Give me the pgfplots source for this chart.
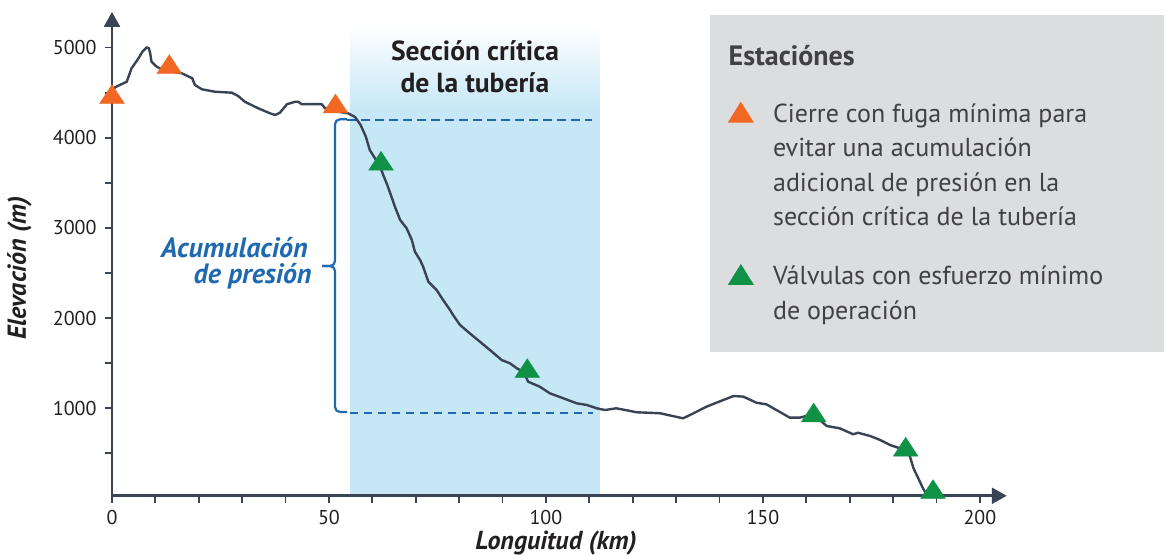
\documentclass[border=0pt]{standalone}
\usepackage{fontspec}
\setmainfont{PT Sans}
\usepackage{pgfplots}
\usepackage{pgfplotstable}
\pgfplotsset{compat=1.18}
\usetikzlibrary{arrows.meta}
\definecolor{axiscol}{HTML}{3B4455}
\definecolor{linecol}{HTML}{3A4354}
\definecolor{orangem}{HTML}{F26722}
\definecolor{greenm}{HTML}{0F9146}
\definecolor{bluefill}{HTML}{C6E7F6}
\definecolor{bluedark}{HTML}{1E69AF}
\definecolor{legbg}{HTML}{DCDDDF}
\definecolor{labcol}{HTML}{231F20}
\definecolor{legtext}{HTML}{414042}

\pgfplotstableread{
x y
0 4500
0.7 4559
3.4 4621
4.5 4769
6.1 4880
7.0 4953
8.0 5002
8.5 4991
8.8 4936
9.1 4843
10.3 4787
11.8 4751
16.1 4714
18.5 4659
19.1 4585
20.7 4537
23.7 4510
27.6 4499
29.1 4462
30.6 4399
33.7 4326
36.4 4271
37.6 4252
38.7 4277
40.3 4371
42.2 4399
42.9 4399
43.7 4371
46.0 4373
48.3 4373
49.1 4326
52.1 4288
54.4 4271
56.0 4230
57.3 4141
58.5 4011
59.4 3864
60.6 3772
61.8 3679
62.5 3587
63.3 3494
64.4 3346
65.2 3235
66.4 3088
67.9 2996
69.1 2866
69.8 2736
71.0 2644
71.7 2570
72.9 2404
74.8 2312
76.3 2201
77.9 2090
78.6 2034
80.2 1924
82.9 1813
84.8 1738
87.1 1646
89.8 1535
91.7 1499
93.3 1443
94.8 1406
95.9 1295
98.6 1239
100.9 1166
104.0 1111
107.1 1055
109.4 1037
111.7 1000
113.6 981
116.2 1000
117.1 992
120.9 956
126.3 945
131.6 889
133.2 926
134.7 962
137.0 1018
139.3 1062
143.2 1136
145.5 1129
148.5 1062
150.8 1044
153.1 981
156.2 896
158.5 896
160.8 926
163.1 870
164.7 804
167.7 778
170.8 712
171.9 729
174.7 693
177.0 649
179.3 593
181.6 556
183.1 538
183.9 463
184.7 335
185.8 224
187.0 102
187.7 50
}\terrain

\pgfplotstableread{
x y
0 4449
13.2 4782
51.5 4345
}\orangest

\pgfplotstableread{
x y
62.0 3710
95.7 1411
161.7 919
182.9 539
189.2 70
}\greenst

\begin{document}
\begin{tikzpicture}
\begin{axis}[
  width=447.4pt, height=241.9pt, scale only axis,
  xmin=0, xmax=206.2, ymin=30, ymax=5394,
  axis lines=left,
  axis line style={draw=axiscol, line width=1.3pt, -{Triangle[length=7.5pt,width=8pt]}},
  xtick={0,50,100,150,200},
  minor xtick={10,20,30,40,60,70,80,90,110,120,130,140,160,170,180,190},
  ytick={1000,2000,3000,4000,5000},
  minor ytick={500,1500,2500,3500,4500},
  tick align=outside,
  major tick length=3.7pt, minor tick length=3.7pt,
  tick style={draw=axiscol, line width=0.9pt},
  tick label style={font=\fontsize{10pt}{11pt}\selectfont, text=labcol},
  yticklabel style={xshift=-0.5pt},
  /pgf/number format/assume math mode=true,
  /pgf/number format/1000 sep={},
  clip=false,
]
\fill[bluefill] (axis cs:54.8,45) rectangle (axis cs:112.4,4310);
\shade[top color=white, bottom color=bluefill] (axis cs:54.8,4300) rectangle (axis cs:112.4,5260);
\draw[bluedark, line width=1pt, dash pattern=on 4.2pt off 2.8pt] (axis cs:54.2,4200) -- (axis cs:110.5,4200);
\draw[bluedark, line width=1pt, dash pattern=on 4.2pt off 2.8pt] (axis cs:54.8,950) -- (axis cs:110.8,950);
\addplot[linecol, line width=1.2pt, line join=round] table[x=x,y=y] {\terrain};
\addplot[only marks, color=orangem, mark=triangle*, mark size=7.2pt, mark options={fill=orangem, draw=orangem, line width=0.1pt, yscale=0.88}] table[x=x,y=y] {\orangest};
\addplot[only marks, color=greenm, mark=triangle*, mark size=7.2pt, mark options={fill=greenm, draw=greenm, line width=0.1pt, yscale=0.88}] table[x=x,y=y] {\greenst};
\coordinate (O) at (axis cs:0,0);
\end{axis}
\begin{scope}[shift={(O)}, x=0.5pt, y=-0.5pt, shift={(-112,-498.5)}]
  % brace
  \draw[bluedark, line width=1.1pt, rounded corners=2.5pt] (347,119.3) -- (335,119.3) -- (335,266) -- (322,266);
  \draw[bluedark, line width=1.1pt, rounded corners=2.5pt] (322,266) -- (335,266) -- (335,412) -- (347,412);
  % annotation texts
  \node[anchor=base east, inner sep=0pt, text=bluedark, font=\fontsize{14pt}{15pt}\selectfont\bfseries\itshape] at (308,257.3) {Acumulación};
  \node[anchor=base east, inner sep=0pt, text=bluedark, font=\fontsize{14pt}{15pt}\selectfont\bfseries\itshape] at (312,284) {de presión};
  \node[anchor=base, inner sep=0pt, text=labcol, font=\fontsize{13.8pt}{15pt}\selectfont\bfseries] at (475,61) {Sección crítica};
  \node[anchor=base, inner sep=0pt, text=labcol, font=\fontsize{13.8pt}{15pt}\selectfont\bfseries] at (475,92.3) {de la tubería};
  % axis labels
  \node[anchor=base, inner sep=0pt, text=labcol, font=\fontsize{13pt}{14pt}\selectfont\bfseries\itshape] at (556,550) {Longuitud (km)};
  \node[anchor=base, rotate=90, inner sep=0pt, text=labcol, font=\fontsize{13pt}{14pt}\selectfont\bfseries\itshape] at (26,268) {Elevación (m)};
  % legend
  \fill[legbg] (710,15) rectangle (1164,352.5);
  \node[anchor=base west, inner sep=0pt, text=legtext, font=\fontsize{14pt}{16pt}\selectfont\bfseries] at (728.3,66) {Estaciónes};
  \fill[orangem] (727.7,122.7) -- (754,122.7) -- (740.85,101.7) -- cycle;
  \fill[greenm] (727.7,285) -- (754,285) -- (740.85,264) -- cycle;
  \foreach \t/\yy in {Cierre con fuga mínima para/122.7, evitar una acumulación/156.9, adicional de presión en la/191.4, sección crítica de la tubería/226, Válvulas con esfuerzo mínimo/285, de operación/320}{
    \node[anchor=base west, inner sep=0pt, text=legtext, font=\fontsize{13pt}{16pt}\selectfont] at (772.7,\yy) {\t};
  }
  \pgfresetboundingbox
  \path[use as bounding box] (0,0) rectangle (1168,555);
\end{scope}
\end{tikzpicture}
\end{document}
